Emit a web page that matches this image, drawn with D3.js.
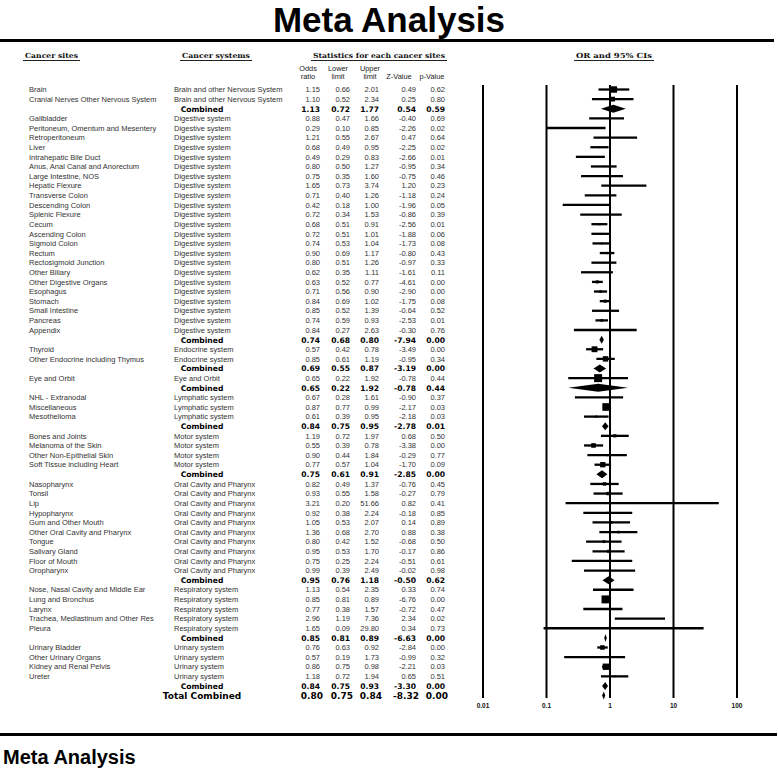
<!DOCTYPE html>
<html>
<head>
<meta charset="utf-8">
<script src="https://cdn.jsdelivr.net/npm/d3@7"></script>
<style>
  body { margin: 0; background: #fff; }
  .site, .system, .num { font-family: "Liberation Sans", Arial, sans-serif; font-size: 7.5px; fill: #333; }
  .colhead { font-family: "Liberation Sans", Arial, sans-serif; font-size: 7.4px; fill: #222; }
  .sechead { font-family: "DejaVu Serif", serif; font-weight: bold; font-size: 7px; fill: #111; }
  .combined { font-family: "DejaVu Sans", sans-serif; font-weight: bold; font-size: 7.6px; fill: #000; }
  .total { font-family: "DejaVu Sans", sans-serif; font-weight: bold; font-size: 9px; fill: #000; }
  .tick { font-family: "Liberation Sans", Arial, sans-serif; font-weight: bold; font-size: 6.5px; fill: #111; }
  .title { font-family: "Liberation Sans", Arial, sans-serif; font-weight: bold; fill: #000; }
</style>
</head>
<body>
<div id="wrapper"></div>
<script>
// study level values
const siteNames = [
  "Brain", "Cranial Nerves Other Nervous System",
  "Gallbladder", "Peritoneum, Omentum and Mesentery", "Retroperitoneum", "Liver",
  "Intrahepatic Bile Duct", "Anus, Anal Canal and Anorectum", "Large Intestine, NOS",
  "Hepatic Flexure", "Transverse Colon", "Descending Colon", "Splenic Flexure", "Cecum",
  "Ascending Colon", "Sigmoid Colon", "Rectum", "Rectosigmoid Junction", "Other Biliary",
  "Other Digestive Organs", "Esophagus", "Stomach", "Small Intestine", "Pancreas", "Appendix",
  "Thyroid", "Other Endocrine including Thymus",
  "Eye and Orbit",
  "NHL - Extranodal", "Miscellaneous", "Mesothelioma",
  "Bones and Joints", "Melanoma of the Skin", "Other Non-Epithelial Skin", "Soft Tissue including Heart",
  "Nasopharynx", "Tonsil", "Lip", "Hypopharynx", "Gum and Other Mouth", "Other Oral Cavity and Pharynx",
  "Tongue", "Salivary Gland", "Floor of Mouth", "Oropharynx",
  "Nose, Nasal Cavity and Middle Ear", "Lung and Bronchus", "Larynx",
  "Trachea, Mediastinum and Other Res", "Pleura",
  "Urinary Bladder", "Other Urinary Organs", "Kidney and Renal Pelvis", "Ureter"
]
const studyGroup = [
  0, 0,
  1, 1, 1, 1, 1, 1, 1, 1, 1, 1, 1, 1, 1, 1, 1, 1, 1, 1, 1, 1, 1, 1, 1,
  2, 2,
  3,
  4, 4, 4,
  5, 5, 5, 5,
  6, 6, 6, 6, 6, 6, 6, 6, 6, 6,
  7, 7, 7, 7, 7,
  8, 8, 8, 8
]
const oddsRatios = [
  1.15, 1.10,
  0.88, 0.29, 1.21, 0.68, 0.49, 0.80, 0.75, 1.65, 0.71, 0.42, 0.72, 0.68, 0.72, 0.74, 0.90, 0.80, 0.62, 0.63, 0.71, 0.84, 0.85, 0.74, 0.84,
  0.57, 0.85,
  0.65,
  0.67, 0.87, 0.61,
  1.19, 0.55, 0.90, 0.77,
  0.82, 0.93, 3.21, 0.92, 1.05, 1.36, 0.80, 0.95, 0.75, 0.99,
  1.13, 0.85, 0.77, 2.96, 1.65,
  0.76, 0.57, 0.86, 1.18
]
const lowerLimits = [
  0.66, 0.52,
  0.47, 0.10, 0.55, 0.49, 0.29, 0.50, 0.35, 0.73, 0.40, 0.18, 0.34, 0.51, 0.51, 0.53, 0.69, 0.51, 0.35, 0.52, 0.56, 0.69, 0.52, 0.59, 0.27,
  0.42, 0.61,
  0.22,
  0.28, 0.77, 0.39,
  0.72, 0.39, 0.44, 0.57,
  0.49, 0.55, 0.20, 0.38, 0.53, 0.68, 0.42, 0.53, 0.25, 0.39,
  0.54, 0.81, 0.38, 1.19, 0.09,
  0.63, 0.19, 0.75, 0.72
]
const upperLimits = [
  2.01, 2.34,
  1.66, 0.85, 2.67, 0.95, 0.83, 1.27, 1.60, 3.74, 1.26, 1.00, 1.53, 0.91, 1.01, 1.04, 1.17, 1.26, 1.11, 0.77, 0.90, 1.02, 1.39, 0.93, 2.63,
  0.78, 1.19,
  1.92,
  1.61, 0.99, 0.95,
  1.97, 0.78, 1.84, 1.04,
  1.37, 1.58, 51.66, 2.24, 2.07, 2.70, 1.52, 1.70, 2.24, 2.49,
  2.35, 0.89, 1.57, 7.36, 29.80,
  0.92, 1.73, 0.98, 1.94
]
const zValues = [
  0.49, 0.25,
  -0.40, -2.26, 0.47, -2.25, -2.66, -0.95, -0.75, 1.20, -1.18, -1.96, -0.86, -2.56, -1.88, -1.73, -0.80, -0.97, -1.61, -4.61, -2.90, -1.75, -0.64, -2.53, -0.30,
  -3.49, -0.95,
  -0.78,
  -0.90, -2.17, -2.18,
  0.68, -3.38, -0.29, -1.70,
  -0.76, -0.27, 0.82, -0.18, 0.14, 0.88, -0.68, -0.17, -0.51, -0.02,
  0.33, -6.76, -0.72, 2.34, 0.34,
  -2.84, -0.99, -2.21, 0.65
]
const pValues = [
  0.62, 0.80,
  0.69, 0.02, 0.64, 0.02, 0.01, 0.34, 0.46, 0.23, 0.24, 0.05, 0.39, 0.01, 0.06, 0.08, 0.43, 0.33, 0.11, 0.00, 0.00, 0.08, 0.52, 0.01, 0.76,
  0.00, 0.34,
  0.44,
  0.37, 0.03, 0.03,
  0.50, 0.00, 0.77, 0.09,
  0.45, 0.79, 0.41, 0.85, 0.89, 0.38, 0.50, 0.86, 0.61, 0.98,
  0.74, 0.00, 0.47, 0.02, 0.73,
  0.00, 0.32, 0.03, 0.51
]

// cancer systems and their combined rows
const groupNames = [
  "Brain and other Nervous System", "Digestive system", "Endocrine system", "Eye and Orbit",
  "Lymphatic system", "Motor system", "Oral Cavity and Pharynx", "Respiratory system", "Urinary system"
]
const groupOR = [1.13, 0.74, 0.69, 0.65, 0.84, 0.75, 0.95, 0.85, 0.84]
const groupLower = [0.72, 0.68, 0.55, 0.22, 0.75, 0.61, 0.76, 0.81, 0.75]
const groupUpper = [1.77, 0.80, 0.87, 1.92, 0.95, 0.91, 1.18, 0.89, 0.93]
const groupZ = [0.54, -7.94, -3.19, -0.78, -2.78, -2.85, -0.50, -6.63, -3.30]
const groupP = [0.59, 0.00, 0.00, 0.44, 0.01, 0.00, 0.62, 0.00, 0.00]

const totalStats = { or: 0.80, lower: 0.75, upper: 0.84, z: -8.32, p: 0.00 }
const axisTicks = [0.01, 0.1, 1, 10, 100]

function drawForest() {
  const width = 778
  const height = 770
  // plain hyphen as minus sign, like the source table
  const f2 = d3.formatLocale({
    decimal: ".", thousands: ",", grouping: [3], currency: ["", ""], minus: "-"
  }).format(".2f")

  // assemble table rows: studies of a system, then that system's combined row
  const seOf = (lo, up) => (Math.log(up) - Math.log(lo)) / 3.92
  let rows = []
  groupNames.forEach((g, gi) => {
    const idx = d3.range(siteNames.length).filter(i => studyGroup[i] == gi)
    const weights = idx.map(i => 1 / Math.pow(seOf(lowerLimits[i], upperLimits[i]), 2))
    const wSum = d3.sum(weights)
    idx.forEach((i, k) => rows.push({
      type: "study", site: siteNames[i], system: groupNames[gi],
      or: oddsRatios[i], lower: lowerLimits[i], upper: upperLimits[i],
      z: zValues[i], p: pValues[i], share: weights[k] / wSum
    }))
    rows.push({
      type: "combined", or: groupOR[gi], lower: groupLower[gi], upper: groupUpper[gi],
      z: groupZ[gi], p: groupP[gi]
    })
  })
  rows.push(Object.assign({ type: "total" }, totalStats))

  const svg = d3.select("#wrapper").append("svg")
    .attr("width", width)
    .attr("height", height)

  const yScale = d3.scaleLinear()
    .domain([0, rows.length - 1])
    .range([89.5, 695.6])

  const xScale = d3.scaleLog()
    .domain([0.01, 100])
    .range([483, 737])

  // titles and rules
  svg.append("text")
    .attr("class", "title")
    .attr("x", 389).attr("y", 32)
    .attr("text-anchor", "middle")
    .style("font-size", "35px")
    .text("Meta Analysis")

  svg.append("line")
    .attr("x1", 0).attr("x2", 774)
    .attr("y1", 40.5).attr("y2", 40.5)
    .attr("stroke", "#000").attr("stroke-width", 3)

  svg.append("line")
    .attr("x1", 0).attr("x2", 777)
    .attr("y1", 734.5).attr("y2", 734.5)
    .attr("stroke", "#000").attr("stroke-width", 3)

  svg.append("text")
    .attr("class", "title")
    .attr("x", 3).attr("y", 764)
    .style("font-size", "20px")
    .text("Meta Analysis")

  // section headings with underline
  const headings = [
    { text: "Cancer sites", x0: 23, x1: 80 },
    { text: "Cancer systems", x0: 180, x1: 252 },
    { text: "Statistics for each cancer sites", x0: 311, x1: 447 },
    { text: "OR and 95% CIs", x0: 574, x1: 654 }
  ]
  const headG = svg.append("g")
  headings.forEach(h => {
    headG.append("text")
      .attr("class", "sechead")
      .attr("x", (h.x0 + h.x1) / 2).attr("y", 58)
      .attr("text-anchor", "middle")
      .attr("textLength", h.x1 - h.x0 - 4)
      .attr("lengthAdjust", "spacingAndGlyphs")
      .text(h.text)
    headG.append("line")
      .attr("x1", h.x0).attr("x2", h.x1)
      .attr("y1", 60.5).attr("y2", 60.5)
      .attr("stroke", "#222").attr("stroke-width", 1)
  })

  // column sub-headings
  const numCols = [
    { key: "or", x: 320, head: ["Odds", "ratio"], hx: 308 },
    { key: "lower", x: 350, head: ["Lower", "limit"], hx: 338 },
    { key: "upper", x: 379, head: ["Upper", "limit"], hx: 370 },
    { key: "z", x: 416, head: ["", "Z-Value"], hx: 399 },
    { key: "p", x: 445, head: ["", "p-Value"], hx: 432 }
  ]
  numCols.forEach(c => {
    c.head.forEach((t, i) => {
      svg.append("text")
        .attr("class", "colhead")
        .attr("x", c.hx).attr("y", 70.5 + i * 8)
        .attr("text-anchor", "middle")
        .text(t)
    })
  })

  // table body
  const body = svg.append("g")
  rows.forEach((r, i) => {
    const y = yScale(i)
    if (r.type == "study") {
      body.append("text").attr("class", "site")
        .attr("x", 29).attr("y", y + 2.7).text(r.site)
      body.append("text").attr("class", "system")
        .attr("x", 174).attr("y", y + 2.7).text(r.system)
    } else {
      body.append("text").attr("class", r.type)
        .attr("x", 202).attr("y", y + (r.type == "total" ? 3.4 : 3))
        .attr("text-anchor", "middle")
        .text(r.type == "total" ? "Total Combined" : "Combined")
    }
    numCols.forEach(c => {
      body.append("text")
        .attr("class", r.type == "study" ? "num" : r.type)
        .attr("x", r.type == "total" ? c.x + 3 : c.x)
        .attr("y", y + (r.type == "study" ? 2.7 : r.type == "total" ? 3.4 : 3))
        .attr("text-anchor", "end")
        .text(f2(r[c.key]))
    })
  })

  // forest plot: reference lines at each decade
  const plot = svg.append("g")
  plot.selectAll(".ref")
    .data(axisTicks)
    .join("line")
      .attr("class", "ref")
      .attr("x1", d => xScale(d)).attr("x2", d => xScale(d))
      .attr("y1", 85).attr("y2", 698)
      .attr("stroke", "#000").attr("stroke-width", 2)

  plot.selectAll(".tick")
    .data(axisTicks)
    .join("text")
      .attr("class", "tick")
      .attr("x", d => xScale(d)).attr("y", 708)
      .attr("text-anchor", "middle")
      .text(d => String(d))

  // confidence intervals and boxes
  const studies = rows.map((r, i) => Object.assign({ i }, r)).filter(r => r.type == "study")
  plot.selectAll(".ci")
    .data(studies)
    .join("line")
      .attr("class", "ci")
      .attr("x1", d => xScale(d.lower)).attr("x2", d => xScale(d.upper))
      .attr("y1", d => yScale(d.i)).attr("y2", d => yScale(d.i))
      .attr("stroke", "#000").attr("stroke-width", 2.3)

  const maxBox = 8
  plot.selectAll(".box")
    .data(studies)
    .join("rect")
      .attr("class", "box")
      .attr("x", d => xScale(d.or) - maxBox * Math.sqrt(d.share) / 2)
      .attr("y", d => yScale(d.i) - maxBox * Math.sqrt(d.share) / 2)
      .attr("width", d => maxBox * Math.sqrt(d.share))
      .attr("height", d => maxBox * Math.sqrt(d.share))
      .attr("fill", "#000")

  // diamonds for combined estimates
  const pooled = rows.map((r, i) => Object.assign({ i }, r)).filter(r => r.type != "study")
  const halfH = 4
  plot.selectAll(".diamond")
    .data(pooled)
    .join("path")
      .attr("class", "diamond")
      .attr("d", d => {
        const y = yScale(d.i)
        return `M${xScale(d.lower)},${y} L${xScale(d.or)},${y - halfH} L${xScale(d.upper)},${y} L${xScale(d.or)},${y + halfH} Z`
      })
      .attr("fill", "#000")
}
drawForest()
</script>
</body>
</html>
